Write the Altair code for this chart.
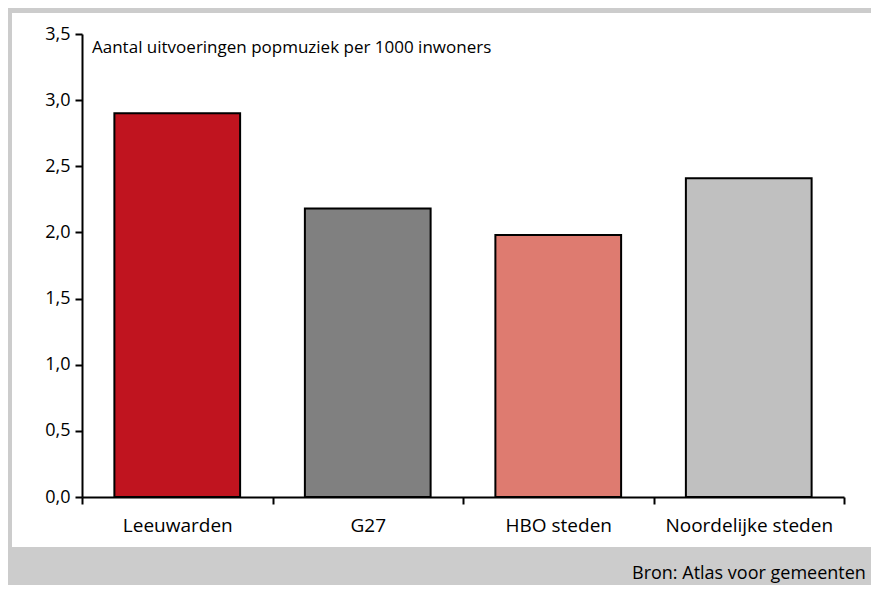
import altair as alt
import pandas as pd

categories = ["Leeuwarden", "G27", "HBO steden", "Noordelijke steden"]
values = [2.90, 2.18, 1.98, 2.41]
colors = ["#C0141F", "#808080", "#DE7B70", "#C0C0C0"]
y_ticks = [0.0, 0.5, 1.0, 1.5, 2.0, 2.5, 3.0, 3.5]
subtitle = ["Aantal uitvoeringen popmuziek per 1000 inwoners"]
source = ["Bron: Atlas voor gemeenten"]

FONT = "Open Sans"

df = pd.DataFrame({"cat": categories, "val": values, "color": colors})

panel = alt.Chart(pd.DataFrame({"a": [0]})).mark_rect(color="white").encode(
    x=alt.value(-70), x2=alt.value(800), y=alt.value(-21), y2=alt.value(513)
)

bars = alt.Chart(df).mark_bar(
    stroke="black", strokeWidth=2, width=alt.RelativeBandSize(0.66)
).encode(
    x=alt.X(
        "cat:N",
        sort=categories,
        scale=alt.Scale(paddingInner=0, paddingOuter=0),
        axis=alt.Axis(title=None, tickBand="extent", labelAngle=0, labelPadding=12,
                      labelFontSize=19, zindex=2, ticks=True, tickSize=7,
                      tickWidth=2, tickColor="black", tickOpacity=1),
    ),
    y=alt.Y(
        "val:Q",
        scale=alt.Scale(domain=[0, 3.5], nice=False),
        axis=alt.Axis(title=None, values=y_ticks, labelPadding=5, labelFontSize=18,
                      zindex=2, ticks=True, tickSize=7, tickWidth=2,
                      tickColor="black", tickOpacity=1,
                      labelExpr="replace(format(datum.value, '.1f'), '.', ',')"),
    ),
    color=alt.Color("color:N", scale=None),
)

note = alt.Chart(pd.DataFrame({"t": subtitle})).mark_text(
    align="left", baseline="alphabetic", fontSize=17, font=FONT, color="black"
).encode(text="t:N", x=alt.value(10), y=alt.value(19))

src = alt.Chart(pd.DataFrame({"t": source})).mark_text(
    align="left", baseline="alphabetic", fontSize=18, font=FONT, color="black"
).encode(text="t:N", x=alt.value(550), y=alt.value(545))

chart = alt.layer(panel, bars, note, src).properties(
    width=762,
    height=463,
    autosize=alt.AutoSizeParams(type="none"),
    padding={"left": 74, "top": 26, "right": 27, "bottom": 88},
    background="#cccccc",
).configure_view(strokeWidth=0).configure_axis(
    grid=False,
    domainColor="black",
    domainWidth=2,
    labelFont=FONT,
    labelColor="black",
)

chart.save("out.html", embed_options={"renderer": "svg", "actions": False})
